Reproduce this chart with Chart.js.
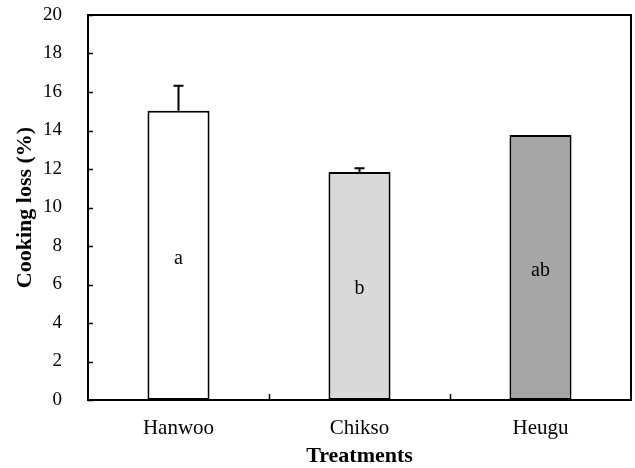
<!DOCTYPE html>
<html>
<head>
<meta charset="utf-8">
<script src="https://cdn.jsdelivr.net/npm/chart.js@4/dist/chart.umd.min.js"></script>
<style>
  html, body { margin: 0; padding: 0; background: #fff; }
  canvas { display: block; }
</style>
</head>
<body>
<canvas id="c" width="635" height="468"></canvas>
<script>
const categories = ['Hanwoo', 'Chikso', 'Heugu'];
const cookingLoss = [15.03, 11.84, 13.77];
const errors = [1.30, 0.20, 0.0];
const letters = ['a', 'b', 'ab'];
const barColors = ['#ffffff', '#d9d9d9', '#a6a6a6'];
const yTicks = [0, 2, 4, 6, 8, 10, 12, 14, 16, 18, 20];

Chart.defaults.font.family = '"Liberation Serif", "Times New Roman", serif';
Chart.defaults.color = '#000';

const framePlugin = {
  id: 'frame',
  afterDatasetsDraw(chart) {
    const { ctx, chartArea: a, scales } = chart;
    const y = scales.y, x = scales.x;
    ctx.save();
    // error bars
    const meta = chart.getDatasetMeta(0);
    ctx.strokeStyle = '#000';
    ctx.lineWidth = 2;
    meta.data.forEach((bar, i) => {
      const e = errors[i];
      if (!e) return;
      const top = y.getPixelForValue(cookingLoss[i] + e);
      const base = y.getPixelForValue(cookingLoss[i]);
      ctx.beginPath();
      ctx.moveTo(bar.x, base);
      ctx.lineTo(bar.x, top);
      ctx.moveTo(bar.x - 5, top);
      ctx.lineTo(bar.x + 5, top);
      ctx.stroke();
    });
    // letters
    ctx.fillStyle = '#000';
    ctx.font = '20px "Liberation Serif", serif';
    ctx.textAlign = 'center';
    ctx.textBaseline = 'middle';
    meta.data.forEach((bar, i) => {
      ctx.fillText(letters[i], bar.x, y.getPixelForValue(cookingLoss[i] / 2) + 3);
    });
    // frame
    ctx.lineWidth = 2;
    ctx.strokeRect(a.left, a.top, a.right - a.left, a.bottom - a.top);
    // inward y ticks
    ctx.lineWidth = 1.5;
    ctx.beginPath();
    yTicks.forEach(v => {
      const py = Math.round(y.getPixelForValue(v)) + 0.5;
      ctx.moveTo(a.left, py);
      ctx.lineTo(a.left + 5, py);
    });
    // inward x ticks at category boundaries
    const n = categories.length;
    for (let i = 1; i < n; i++) {
      const px = Math.round((x.getPixelForValue(i - 1) + x.getPixelForValue(i)) / 2) + 0.5;
      ctx.moveTo(px, a.bottom);
      ctx.lineTo(px, a.bottom - 6);
    }
    ctx.stroke();
    ctx.restore();
  }
};

new Chart(document.getElementById('c'), {
  type: 'bar',
  data: {
    labels: categories,
    datasets: [{
      data: cookingLoss,
      backgroundColor: barColors,
      borderColor: '#000',
      borderWidth: 2,
      borderSkipped: false,
      barPercentage: 0.343,
      categoryPercentage: 1.0
    }]
  },
  options: {
    responsive: false,
    devicePixelRatio: 1,
    animation: false,
    layout: { padding: { top: 15, right: 4, left: 0, bottom: 0 } },
    plugins: { legend: { display: false }, tooltip: { enabled: false } },
    scales: {
      x: {
        offset: true,
        grid: { display: false, drawTicks: false },
        border: { display: true, color: '#000', width: 2 },
        ticks: { font: { size: 21 }, padding: 16, maxRotation: 0 },
        title: {
          display: true, text: 'Treatments',
          font: { size: 22, weight: 'bold' },
          padding: { top: 0, bottom: -2 }
        },
        afterFit(s) { s.height = 68; s.paddingLeft = 0; s.paddingRight = 0; }
      },
      y: {
        min: 0, max: 20,
        grid: { display: false, drawTicks: false },
        border: { display: true, color: '#000', width: 2 },
        afterBuildTicks(s) { s.ticks = yTicks.map(v => ({ value: v })); },
        ticks: { font: { size: 19 }, padding: 26 },
        title: {
          display: true, text: 'Cooking loss (%)',
          font: { size: 22, weight: 'bold' },
          padding: { top: 12, bottom: 0 }
        },
        afterFit(s) { s.width = 88; s.paddingTop = 0; s.paddingBottom = 0; }
      }
    }
  },
  plugins: [framePlugin]
});
</script>
</body>
</html>
